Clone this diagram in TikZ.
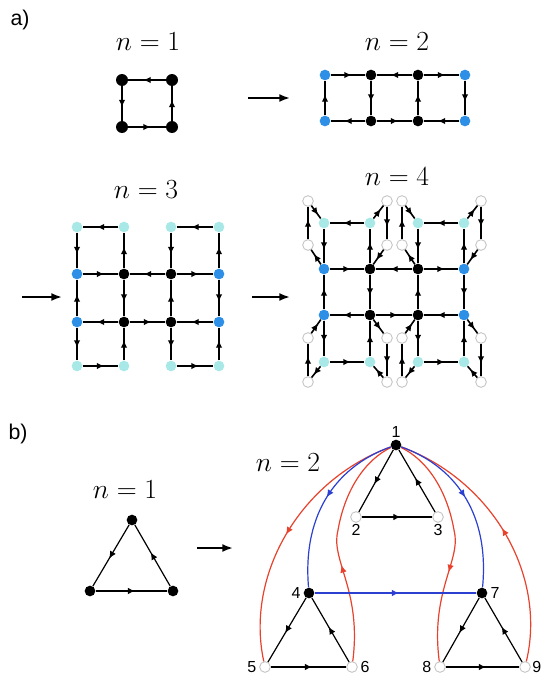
\documentclass[tikz,border=0pt]{standalone}
\usepackage{fontspec}
\newfontfamily\etiqfont{Liberation Sans}
\usetikzlibrary{arrows.meta,decorations.markings}
\definecolor{azulnodo}{HTML}{2D8FE5}
\definecolor{ciannodo}{HTML}{A8E8E6}
\definecolor{rojoarco}{HTML}{E8412C}
\definecolor{azularco}{HTML}{2B3FD0}
\tikzset{
  negro/.style   = {circle, fill=black, inner sep=0pt, minimum size=8pt},
  azul/.style    = {circle, fill=azulnodo, inner sep=0pt, minimum size=8pt},
  cian/.style    = {circle, fill=ciannodo, inner sep=0pt, minimum size=8pt},
  blanco/.style  = {circle, fill=white, draw=black!25, line width=0.6pt,
                    inner sep=0pt, minimum size=8pt},
  arista/.style  = {line width=1.2pt, postaction={decorate},
                    decoration={markings, mark=at position #1 with
                    {\arrow[xshift=2.7pt]{Latex[length=5.5pt,width=5pt]}}}},
  arista/.default = 0.5,
  aristab/.style = {arista=#1, line width=0.9pt},
  aristab/.default = 0.5,
  flecha/.style  = {-{Latex[length=8pt,width=6pt]}, line width=1.5pt},
  etiqn/.style   = {font=\huge},
  etiq/.style    = {font=\etiqfont\fontsize{16}{18}\selectfont},
  num/.style     = {font=\etiqfont\fontsize{12}{14}\selectfont, inner sep=1pt},
}

\begin{document}
\begin{tikzpicture}[x=0.75pt, y=-0.75pt]
  \useasboundingbox (0,0) rectangle (543,678);
  \node[etiq] at (20,20) {a)};
  \node[etiq] at (18,434) {b)};

  % a) n=1
  \node[etiqn] at (148,42) {$n=1$};
  \node[negro, minimum size=9pt] (s1) at (122,80) {};
  \node[negro, minimum size=9pt] (s2) at (172,80) {};
  \node[negro, minimum size=9pt] (s3) at (122,127) {};
  \node[negro, minimum size=9pt] (s4) at (172,127) {};
  \foreach \a/\b in {s2/s1, s1/s3, s3/s4, s4/s2}
    \draw[arista] (\a) -- (\b);

  \coordinate (fa1) at (248,98);
  \coordinate (fb1) at (290,98);
  \draw[flecha] (fa1) -- (fb1);

  % a) n=2
  \node[etiqn] at (397,42) {$n=2$};
  \foreach \c/\x/\e in {1/325/azul, 2/371/negro, 3/418/negro, 4/465/azul} {
    \node[\e] (d1\c) at (\x,75) {};
    \node[\e] (d2\c) at (\x,121) {};
  }
  \foreach \a/\b in {11/12, 13/12, 13/14, 12/22, 23/13, 14/24,
                     21/11, 22/21, 22/23, 24/23}
    \draw[arista] (d\a) -- (d\b);

  % a) n=3 y n=4
  \node[etiqn] at (146,190) {$n=3$};
  \node[etiqn] at (397,177) {$n=4$};
  \foreach \c/\x/\e in {1/77/azul, 2/124/negro, 3/171/negro, 4/219/azul} {
    \node[cian] (t1\c) at (\x,227) {};
    \node[\e] (t2\c) at (\x,274) {};
    \node[\e] (t3\c) at (\x,322) {};
    \node[cian] (t4\c) at (\x,366) {};
  }
  \foreach \c/\x/\e in {1/324/azul, 2/370/negro, 3/418/negro, 4/464/azul} {
    \node[cian] (f1\c) at (\x,223) {};
    \node[\e] (f2\c) at (\x,269) {};
    \node[\e] (f3\c) at (\x,315) {};
    \node[cian] (f4\c) at (\x,362) {};
  }
  \foreach \p in {t,f}
    \foreach \a/\b in {12/11, 14/13, 21/22, 23/22, 23/24, 32/31, 32/33, 34/33,
                       41/42, 43/44, 11/21, 31/21, 31/41, 22/12, 22/32, 42/32,
                       13/23, 33/23, 33/43, 24/14, 24/34, 44/34}
      \draw[arista] (\p\a) -- (\p\b);
  \foreach \c/\x in {1/308, 2/387, 3/402, 4/481} {
    \node[blanco] (wa\c) at (\x,201) {};
    \node[blanco] (wb\c) at (\x,245) {};
    \node[blanco] (wc\c) at (\x,338) {};
    \node[blanco] (wd\c) at (\x,382) {};
  }
  \foreach \a/\b in {f21/wb1, wb1/wa1, wa1/f11, f12/wa2, wa2/wb2, wb2/f22,
                     f23/wb3, wb3/wa3, wa3/f13, f14/wa4, wa4/wb4, wb4/f24,
                     f41/wd1, wd1/wc1, wc1/f31, f32/wc2, wc2/wd2, wd2/f42,
                     f43/wd3, wd3/wc3, wc3/f33, f34/wc4, wc4/wd4, wd4/f44}
    \draw[arista] (\a) -- (\b);

  \coordinate (fa2) at (22,297);
  \coordinate (fb2) at (62,297);
  \draw[flecha] (fa2) -- (fb2);
  \coordinate (fa3) at (252,297);
  \coordinate (fb3) at (290,297);
  \draw[flecha] (fa3) -- (fb3);

  % b) n=1
  \node[etiqn] at (125,490) {$n=1$};
  \node[negro] (q1) at (132,520) {};
  \node[negro] (q2) at (90,591) {};
  \node[negro] (q3) at (173,591) {};
  \foreach \a/\b in {q1/q2, q2/q3, q3/q1}
    \draw[aristab] (\a) -- (\b);

  \coordinate (fa4) at (197,548);
  \coordinate (fb4) at (233,548);
  \draw[flecha] (fa4) -- (fb4);

  % b) n=2
  \node[etiqn] at (288,463) {$n=2$};
  \node[negro, label={[num, label distance=0pt]above:1}] (p1) at (396,445) {};
  \node[blanco, label={[num, label distance=0pt]below:2}] (p2) at (356,517) {};
  \node[blanco, label={[num, label distance=0pt]below:3}] (p3) at (438,517) {};
  \node[negro, label={[num, label distance=1pt]left:4}] (p4) at (309,593) {};
  \node[negro, label={[num, label distance=1pt]right:7}] (p7) at (482,593) {};
  \node[blanco, label={[num, label distance=1pt]left:5}] (p5) at (265,667) {};
  \node[blanco, label={[num, label distance=1pt]right:6}] (p6) at (352,667) {};
  \node[blanco, label={[num, label distance=1pt]left:8}] (p8) at (440,667) {};
  \node[blanco, label={[num, label distance=0pt]right:9}] (p9) at (525,667) {};

  \draw[aristab, rojoarco] (p1) .. controls (300,480) and (245,575) .. (p5);
  \draw[aristab=0.4, rojoarco] (p6) .. controls (362,590) and (330,560) .. (338,530)
    .. controls (345,490) and (365,460) .. (p1);
  \draw[aristab=0.6, rojoarco] (p1) .. controls (427,460) and (447,490) .. (454,530)
    .. controls (462,560) and (430,590) .. (p8);
  \draw[aristab, rojoarco] (p9) .. controls (547,575) and (492,480) .. (p1);
  \draw[aristab=0.45, azularco] (p1) .. controls (340,465) and (302,510) .. (p4);
  \draw[aristab=0.45, azularco] (p1) .. controls (452,465) and (490,510) .. (p7);
  \draw[aristab, azularco] (p4) -- (p7);
  \foreach \a/\b in {p1/p2, p2/p3, p3/p1, p4/p5, p5/p6, p6/p4, p7/p8, p8/p9, p9/p7}
    \draw[aristab] (\a) -- (\b);
\end{tikzpicture}
\end{document}
